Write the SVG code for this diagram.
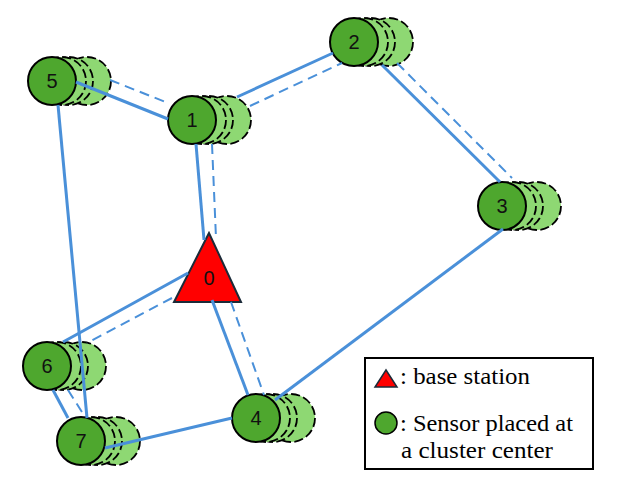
<svg xmlns="http://www.w3.org/2000/svg" width="617" height="497" viewBox="0 0 617 497">
<style>
.back{fill:#8ed873;stroke:#000;stroke-width:1.8;stroke-dasharray:9,3.5}
.main{fill:#4ea72e;stroke:#000;stroke-width:2}
.lbl{font-family:"Liberation Sans",Arial,sans-serif;font-size:20px;fill:#111;text-anchor:middle}
.s{stroke:#4a90d9;stroke-width:3;fill:none}
.d{stroke:#4a90d9;stroke-width:2;fill:none;stroke-dasharray:10,6}
.leg{font-family:"Liberation Serif","Times New Roman",serif;font-size:23px;fill:#000}
</style>
<defs>
<g id="stack">
<circle class="back" cx="35" cy="0" r="24"/>
<circle class="back" cx="17" cy="0" r="24"/>
<circle class="back" cx="10" cy="0" r="24"/>
<circle class="main" cx="0" cy="0" r="24"/>
</g>
</defs>
<rect width="617" height="497" fill="#fff"/>
<g id="node5" transform="translate(52,81)"><use href="#stack"/><text class="lbl" x="0" y="7">5</text></g>
<g id="node1" transform="translate(192,120)"><use href="#stack"/><text class="lbl" x="0" y="7">1</text></g>
<g id="node2" transform="translate(354,42)"><use href="#stack"/><text class="lbl" x="0" y="7">2</text></g>
<g id="node3" transform="translate(502,206)"><use href="#stack"/><text class="lbl" x="0" y="7">3</text></g>
<g id="node6" transform="translate(47,366)"><use href="#stack"/><text class="lbl" x="0" y="7">6</text></g>
<g id="node7" transform="translate(81,441)"><use href="#stack"/><text class="lbl" x="0" y="7">7</text></g>
<g id="node4" transform="translate(256,418)"><use href="#stack"/><text class="lbl" x="0" y="7">4</text></g>
<g id="node0">
<polygon points="209,233 174,302 241,302" fill="#ff0000" stroke="#1b2a38" stroke-width="2" stroke-linejoin="miter"/>
<text class="lbl" x="209" y="285">0</text>
</g>
<g id="connectors">
<line class="s" x1="76" y1="82" x2="168" y2="119"/>
<line class="d" x1="110" y1="80" x2="168" y2="103"/>
<line class="s" x1="237" y1="97" x2="333" y2="53"/>
<line class="d" x1="250" y1="106" x2="342" y2="63"/>
<line class="s" x1="382" y1="65" x2="500" y2="182"/>
<line class="d" x1="397" y1="63" x2="512" y2="178"/>
<line class="s" x1="503" y1="229" x2="275" y2="400"/>
<line class="s" x1="196" y1="144" x2="204" y2="240"/>
<line class="d" x1="212" y1="144" x2="216" y2="238"/>
<line class="s" x1="212" y1="300" x2="248" y2="395"/>
<line class="d" x1="231" y1="302" x2="264" y2="395"/>
<line class="s" x1="188" y1="273" x2="63" y2="342"/>
<line class="d" x1="172" y1="298" x2="87" y2="343"/>
<line class="s" x1="58" y1="105" x2="87" y2="418"/>
<line class="s" x1="53" y1="390" x2="68" y2="418"/>
<line class="d" x1="68" y1="390" x2="82" y2="412"/>
<line class="s" x1="105" y1="448" x2="232" y2="418"/>
</g>
<g id="legend">
<rect x="365" y="358" width="228" height="111" fill="#fff" stroke="#000" stroke-width="2"/>
<polygon points="386,370 375,387 397,387" fill="#ff0000" stroke="#1b2a38" stroke-width="1.5"/>
<text class="leg" x="400" y="384" textLength="130" lengthAdjust="spacingAndGlyphs">: base station</text>
<circle cx="386" cy="423" r="11" fill="#4ea72e" stroke="#000" stroke-width="1.5"/>
<text class="leg" x="400" y="431" textLength="173" lengthAdjust="spacingAndGlyphs">: Sensor placed at</text>
<text class="leg" x="401" y="458" textLength="152" lengthAdjust="spacingAndGlyphs">a cluster center</text>
</g>
</svg>
